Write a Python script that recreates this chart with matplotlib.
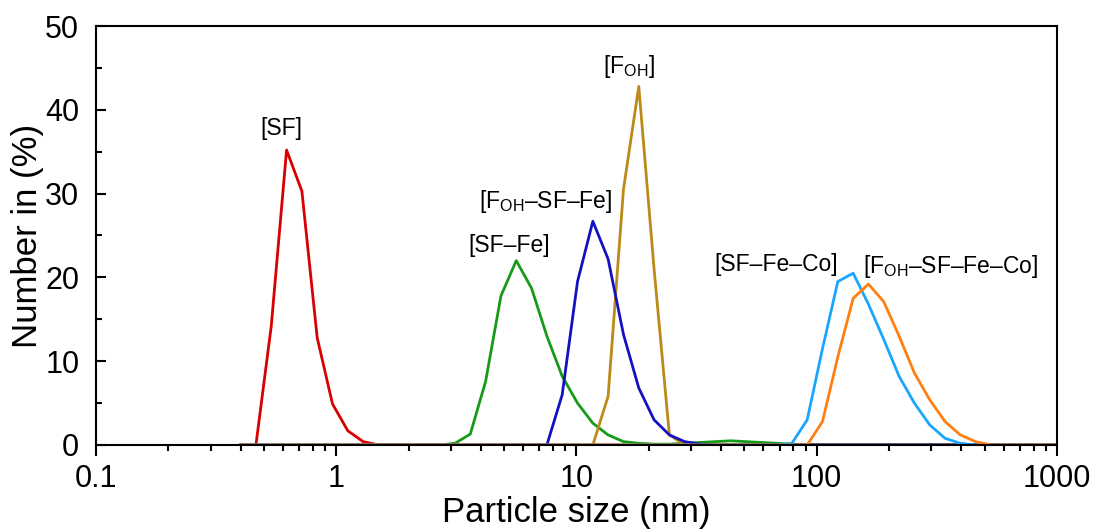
import matplotlib
matplotlib.use("Agg")
import matplotlib.pyplot as plt
from matplotlib.ticker import FixedLocator, NullFormatter, MultipleLocator

plt.rcParams['font.family'] = ['Liberation Sans', 'DejaVu Sans']
plt.rcParams['mathtext.fontset'] = 'custom'
plt.rcParams['mathtext.rm'] = 'Liberation Sans'

# Size bins (nm)
sizes = [0.4, 0.4632, 0.5365, 0.6213, 0.7195, 0.8332, 0.9649, 1.117, 1.294, 1.499,
         1.736, 2.01, 2.328, 2.696, 3.122, 3.615, 4.187, 4.849, 5.615, 6.503,
         7.531, 8.721, 10.1, 11.7, 13.54, 15.69, 18.17, 21.04, 24.36, 28.21,
         32.67, 37.84, 43.82, 50.75, 58.77, 68.06, 78.82, 91.28, 105.7, 122.4,
         141.8, 164.2, 190.1, 220.2, 255.0, 295.3, 342.0, 396.1, 458.7, 531.2,
         615.1, 712.4, 825.0, 955.4, 1106]

sf = [0, 0, 14.2, 35.2, 30.3, 12.8, 4.9, 1.7, 0.4, 0,
      0, 0, 0, 0, 0, 0, 0, 0, 0, 0,
      0, 0, 0, 0, 0, 0, 0, 0, 0, 0,
      0, 0, 0, 0, 0, 0, 0, 0, 0, 0,
      0, 0, 0, 0, 0, 0, 0, 0, 0, 0,
      0, 0, 0, 0, 0]
sf_fe = [0, 0, 0, 0, 0, 0, 0, 0, 0, 0,
         0, 0, 0, 0, 0.2, 1.3, 7.6, 17.8, 22.0, 18.7,
         13.0, 8.2, 5.0, 2.6, 1.2, 0.4, 0.2, 0.1, 0.1, 0.2,
         0.3, 0.4, 0.5, 0.4, 0.3, 0.2, 0.1, 0, 0, 0,
         0, 0, 0, 0, 0, 0, 0, 0, 0, 0,
         0, 0, 0, 0, 0]
foh = [0, 0, 0, 0, 0, 0, 0, 0, 0, 0,
       0, 0, 0, 0, 0, 0, 0, 0, 0, 0,
       0, 0, 0, 0, 5.8, 30.5, 42.8, 21.0, 1.2, 0,
       0, 0, 0, 0, 0, 0, 0, 0, 0, 0,
       0, 0, 0, 0, 0, 0, 0, 0, 0, 0,
       0, 0, 0, 0, 0]
foh_sf_fe = [0, 0, 0, 0, 0, 0, 0, 0, 0, 0,
             0, 0, 0, 0, 0, 0, 0, 0, 0, 0,
             0, 6.0, 19.5, 26.7, 22.2, 13.2, 6.8, 3.0, 1.2, 0.4,
             0.1, 0, 0, 0, 0, 0, 0, 0, 0, 0,
             0, 0, 0, 0, 0, 0, 0, 0, 0, 0,
             0, 0, 0, 0, 0]
sf_fe_co = [0, 0, 0, 0, 0, 0, 0, 0, 0, 0,
            0, 0, 0, 0, 0, 0, 0, 0, 0, 0,
            0, 0, 0, 0, 0, 0, 0, 0, 0, 0,
            0, 0, 0, 0, 0, 0, 0.2, 3.0, 11.5, 19.5,
            20.5, 16.8, 12.6, 8.2, 5.0, 2.4, 0.8, 0.2, 0, 0,
            0, 0, 0, 0, 0]
foh_sf_fe_co = [0, 0, 0, 0, 0, 0, 0, 0, 0, 0,
                0, 0, 0, 0, 0, 0, 0, 0, 0, 0,
                0, 0, 0, 0, 0, 0, 0, 0, 0, 0,
                0, 0, 0, 0, 0, 0, 0, 0, 2.8, 10.5,
                17.5, 19.2, 17.1, 13.0, 8.6, 5.4, 2.8, 1.2, 0.4, 0,
                0, 0, 0, 0, 0]

series = [sf, sf_fe, foh, foh_sf_fe, sf_fe_co, foh_sf_fe_co]
colors = ['#d90000', '#179a17', '#bd8a1a', '#1212c0', '#1aa6ff', '#ff8012']

labels = ['[SF]', '[SF–Fe]', r'[F$_\mathregular{OH}$]', r'[F$_\mathregular{OH}$–SF–Fe]',
          '[SF–Fe–Co]', r'[F$_\mathregular{OH}$–SF–Fe–Co]']
label_x = [0.589, 5.24, 16.5, 7.47, 67.6, 362]
label_y = [37.8, 23.8, 45.2, 29.1, 21.5, 21.3]

fig = plt.figure(figsize=(10.97, 5.31), dpi=100)
ax = fig.add_axes([0.0875, 0.162, 0.876, 0.789])

for ys, c in zip(series, colors):
    ax.plot(sizes, ys, color=c, lw=2.0, clip_on=True)

for t, x, y in zip(labels, label_x, label_y):
    ax.text(x, y, t, ha='center', va='center', fontsize=16.5)

ax.set_xscale('log')
ax.set_xlim(0.1, 1000)
ax.set_ylim(0, 50)
ax.xaxis.set_major_locator(FixedLocator([0.1, 1, 10, 100, 1000]))
ax.set_xticklabels(['0.1', '1', '10', '100', '1000'])
ax.xaxis.set_minor_locator(matplotlib.ticker.LogLocator(base=10, subs=range(2, 10), numticks=20))
ax.xaxis.set_minor_formatter(NullFormatter())
ax.yaxis.set_major_locator(MultipleLocator(10))
ax.yaxis.set_minor_locator(MultipleLocator(5))

for s in ax.spines.values():
    s.set_linewidth(1.5)
ax.tick_params(axis='x', which='major', direction='out', length=8, width=1.5, labelsize=22, pad=6)
ax.tick_params(axis='x', which='minor', direction='out', length=4, width=1.5)
ax.tick_params(axis='y', which='major', direction='in', length=7, width=1.5, labelsize=22, pad=12)
ax.tick_params(axis='y', which='minor', direction='in', length=4, width=1.5)

ax.set_xlabel('Particle size (nm)', fontsize=25, labelpad=1)
ax.set_ylabel('Number in (%)', fontsize=25, labelpad=1)

fig.savefig('out.png', dpi=100)
